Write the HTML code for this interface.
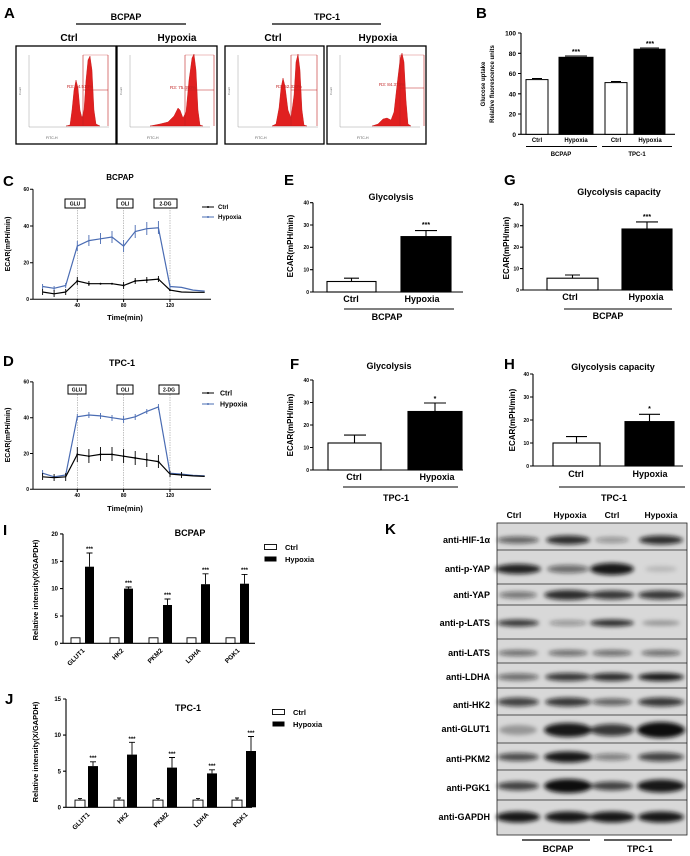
<!DOCTYPE html>
<html><head><meta charset="utf-8"><style>
html,body{margin:0;padding:0;background:#fff;}
svg{display:block;font-family:"Liberation Sans",Arial,sans-serif;font-weight:bold;}
</style></head><body>
<svg width="690" height="856" viewBox="0 0 690 856" xmlns="http://www.w3.org/2000/svg">
<defs>
<filter id="bl" x="-30%" y="-80%" width="160%" height="260%"><feGaussianBlur stdDeviation="2"/></filter>
</defs>
<rect width="690" height="856" fill="#fff"/>

<!-- ===== A ===== -->
<text x="4" y="18" font-size="15">A</text>
<text x="126" y="20" font-size="9" text-anchor="middle">BCPAP</text>
<line x1="76" y1="24" x2="186" y2="24" stroke="#000" stroke-width="1.2"/>
<text x="327" y="20" font-size="9" text-anchor="middle">TPC-1</text>
<line x1="272" y1="24" x2="381" y2="24" stroke="#000" stroke-width="1.2"/>
<g font-size="10" text-anchor="middle">
<text x="69" y="41">Ctrl</text><text x="177" y="41">Hypoxia</text>
<text x="273" y="41">Ctrl</text><text x="378" y="41">Hypoxia</text>
</g>
<g fill="none" stroke="#000" stroke-width="1.3">
<rect x="16" y="46" width="100" height="98"/><rect x="117" y="46" width="100" height="98"/>
<rect x="225" y="46" width="99" height="98"/><rect x="327" y="46" width="99" height="98"/>
</g>
<g font-size="3.5" font-weight="normal" fill="#555">
<text x="46" y="139">FITC-H</text><text x="147" y="139">FITC-H</text><text x="255" y="139">FITC-H</text><text x="357" y="139">FITC-H</text>
</g>
<g stroke="#888" stroke-width="0.4">
<line x1="29" y1="55" x2="29" y2="127"/><line x1="29" y1="127" x2="109" y2="127"/>
<line x1="130" y1="55" x2="130" y2="127"/><line x1="130" y1="127" x2="210" y2="127"/>
<line x1="238" y1="55" x2="238" y2="127"/><line x1="238" y1="127" x2="318" y2="127"/>
<line x1="340" y1="55" x2="340" y2="127"/><line x1="340" y1="127" x2="420" y2="127"/>
</g>
<g fill="#e02020" stroke="#c01010" stroke-width="0.4">
<path d="M66,126 L70,125 72,110 74,90 76,80 78,88 80,110 82,118 84,110 86,80 88,60 90,56 92,70 94,110 96,124 100,126 Z"/>
<path d="M150,126 L160,124 168,122 174,116 178,108 180,110 183,118 186,112 189,80 192,58 194,54 196,70 198,110 200,125 203,126 Z"/>
<path d="M272,126 L276,124 279,108 281,88 283,78 285,86 288,110 291,118 294,95 296,62 298,54 300,70 302,110 304,125 307,126 Z"/>
<path d="M372,126 L378,124 383,119 387,118 391,120 394,112 397,85 400,60 402,53 404,62 406,100 408,124 411,126 Z"/>
</g>
<g stroke="#c02020" stroke-width="0.6" fill="none">
<path d="M83,55 V126 M108,55 V126 M83,90 H108"/>
<path d="M185,55 V126 M214,55 V126 M185,90 H214"/>
<path d="M291,55 V126 M317,55 V126 M291,90 H317"/>
<path d="M400,55 V126 M424,55 V126 M400,88 H424"/>
<path d="M83,55 H108 M185,55 H214 M291,55 H317 M400,55 H424" stroke-width="0.3"/>
</g>
<g font-size="4.5" fill="#c02020" font-weight="normal">
<text x="67" y="88">R3: 54.510%</text><text x="170" y="89">R3: 75.400%</text>
<text x="276" y="88">R3: 52.330%</text><text x="379" y="86">R3: 84.370%</text>
</g>
<g font-size="3" font-weight="normal" fill="#666">
<text x="21" y="95" transform="rotate(-90 21 95)">Count</text><text x="122" y="95" transform="rotate(-90 122 95)">Count</text>
<text x="230" y="95" transform="rotate(-90 230 95)">Count</text><text x="332" y="95" transform="rotate(-90 332 95)">Count</text>
</g>

<!-- ===== B ===== -->
<text x="476" y="18" font-size="15">B</text>
<g stroke="#000" stroke-width="1.1">
<line x1="521" y1="33" x2="521" y2="134.3"/><line x1="521" y1="134.3" x2="675" y2="134.3"/>
<path d="M518,33H521M518,53.3H521M518,73.5H521M518,93.8H521M518,114H521M518,134.3H521"/>
</g>
<g font-size="6.5" text-anchor="end">
<text x="516" y="35.5">100</text><text x="516" y="55.8">80</text><text x="516" y="76">60</text><text x="516" y="96.3">40</text><text x="516" y="116.5">20</text><text x="516" y="136.8">0</text>
</g>
<g stroke="#000" stroke-width="1">
<rect x="526" y="79.6" width="22" height="54.7" fill="#fff"/>
<rect x="559" y="57.3" width="34" height="77" fill="#000"/>
<rect x="605" y="82.6" width="22" height="51.7" fill="#fff"/>
<rect x="634" y="49.2" width="31" height="85.1" fill="#000"/>
<path d="M532,78.5H542M565,56H587M611,81.5H621M640,48H659"/>
</g>
<g font-size="7" text-anchor="middle"><text x="576" y="54">***</text><text x="650" y="46">***</text></g>
<g font-size="6" text-anchor="middle">
<text x="537" y="142">Ctrl</text><text x="576" y="142">Hypoxia</text><text x="616" y="142">Ctrl</text><text x="650" y="142">Hypoxia</text>
<text x="561" y="156">BCPAP</text><text x="637" y="156">TPC-1</text>
</g>
<path d="M526,146.5H597M602,146.5H672" stroke="#000" stroke-width="1"/>
<g font-size="6" text-anchor="middle">
<text transform="translate(485,84) rotate(-90)">Glucose uptake</text>
<text transform="translate(494,84) rotate(-90)">Relative fluorescence units</text>
</g>

<!-- ===== C ===== -->
<text x="3" y="186" font-size="15">C</text>
<text x="120" y="180" font-size="8" text-anchor="middle">BCPAP</text>
<g stroke="#000" stroke-width="1">
<line x1="33" y1="189.3" x2="33" y2="299.3"/><line x1="33" y1="299.3" x2="211" y2="299.3"/>
<path d="M30,189.3H33M30,226H33M30,262.7H33M30,299.3H33M77.3,299.3V302M123.6,299.3V302M170,299.3V302"/>
</g>
<g font-size="5" text-anchor="end"><text x="29" y="191">60</text><text x="29" y="228">40</text><text x="29" y="264.5">20</text><text x="29" y="301">0</text></g>
<g font-size="5" text-anchor="middle"><text x="77.3" y="307">40</text><text x="123.6" y="307">80</text><text x="170" y="307">120</text></g>
<text x="125" y="320" font-size="7.5" text-anchor="middle">Time(min)</text>
<text transform="translate(10,244) rotate(-90)" font-size="7" text-anchor="middle">ECAR(mPH/min)</text>
<g stroke="#999" stroke-width="0.6" stroke-dasharray="1.5,1"><path d="M77.3,200V299M123.6,200V299M170,200V299"/></g>
<g fill="#fff" stroke="#000" stroke-width="1"><rect x="65" y="199" width="20" height="9"/><rect x="117" y="199" width="16" height="9"/><rect x="154" y="199" width="23" height="9"/></g>
<g font-size="5" text-anchor="middle"><text x="75" y="205.5">GLU</text><text x="125" y="205.5">OLI</text><text x="165.5" y="205.5">2-DG</text></g>
<path d="M202,207H214" stroke="#000" stroke-width="1"/><circle cx="208" cy="207" r="1" fill="#000"/>
<path d="M202,217H214" stroke="#4a6cb3" stroke-width="1"/><circle cx="208" cy="217" r="1" fill="#4a6cb3"/>
<text x="218" y="209" font-size="6">Ctrl</text><text x="218" y="219" font-size="6">Hypoxia</text>
<polyline fill="none" stroke="#4a6cb3" stroke-width="1.2" points="42.6,286.5 54.1,288.3 65.7,285.5 77.3,246.1 88.9,240.6 100.5,238.8 112,237 123.6,246.1 135.2,231.5 146.8,228.7 158.4,227.8 170,286.5 181.5,287.4 193.1,290.1 204.7,291.1"/>
<g stroke="#4a6cb3" stroke-width="0.9"><path d="M42.6,284V289M54.1,286V291M65.7,283V288M77.3,241V251M88.9,235V246M100.5,233V244M112,231V243M123.6,240V252M135.2,225V238M146.8,222V235M158.4,221V234M170,284V289"/></g>
<polyline fill="none" stroke="#000" stroke-width="1.2" points="42.6,292 54.1,293.8 65.7,292 77.3,281 88.9,283.7 100.5,283.7 112,283.7 123.6,285.5 135.2,281 146.8,280.1 158.4,279.1 170,290.1 181.5,292 193.1,292.3 204.7,292.3"/>
<g stroke="#000" stroke-width="0.9"><path d="M42.6,289V295M54.1,290V297M65.7,289V295M77.3,277V285M88.9,281V286M123.6,282V289M135.2,278V284M146.8,277V283M158.4,276V282"/></g>
<g fill="#000"><circle cx="77.3" cy="281" r="1"/><circle cx="88.9" cy="283.7" r="1"/><circle cx="100.5" cy="283.7" r="1"/><circle cx="112" cy="283.7" r="1"/><circle cx="123.6" cy="285.5" r="1"/><circle cx="135.2" cy="281" r="1"/><circle cx="146.8" cy="280.1" r="1"/><circle cx="158.4" cy="279.1" r="1"/><circle cx="170" cy="290.1" r="1"/></g>

<!-- ===== D ===== -->
<text x="3" y="366" font-size="15">D</text>
<text x="122" y="366" font-size="9" text-anchor="middle">TPC-1</text>
<g stroke="#000" stroke-width="1">
<line x1="33" y1="381.9" x2="33" y2="489.3"/><line x1="33" y1="489.3" x2="211" y2="489.3"/>
<path d="M30,381.9H33M30,417.7H33M30,453.5H33M30,489.3H33M77.3,489.3V492M123.6,489.3V492M170,489.3V492"/>
</g>
<g font-size="5" text-anchor="end"><text x="29" y="383.7">60</text><text x="29" y="419.5">40</text><text x="29" y="455.3">20</text><text x="29" y="491">0</text></g>
<g font-size="5" text-anchor="middle"><text x="77.3" y="497">40</text><text x="123.6" y="497">80</text><text x="170" y="497">120</text></g>
<text x="125" y="511" font-size="7.5" text-anchor="middle">Time(min)</text>
<text transform="translate(10,435) rotate(-90)" font-size="7" text-anchor="middle">ECAR(mPH/min)</text>
<g stroke="#999" stroke-width="0.6" stroke-dasharray="1.5,1"><path d="M77.3,392V489M123.6,392V489M170,392V489"/></g>
<g fill="#fff" stroke="#000" stroke-width="1"><rect x="68" y="385" width="18" height="9"/><rect x="117" y="385" width="16" height="9"/><rect x="159" y="385" width="20" height="9"/></g>
<g font-size="5" text-anchor="middle"><text x="77" y="391.5">GLU</text><text x="125" y="391.5">OLI</text><text x="169" y="391.5">2-DG</text></g>
<path d="M202,393H214" stroke="#000" stroke-width="1"/><circle cx="208" cy="393" r="1" fill="#000"/>
<path d="M202,404H214" stroke="#4a6cb3" stroke-width="1"/><circle cx="208" cy="404" r="1" fill="#4a6cb3"/>
<text x="220" y="395.5" font-size="7">Ctrl</text><text x="220" y="406.5" font-size="7">Hypoxia</text>
<polyline fill="none" stroke="#4a6cb3" stroke-width="1.2" points="42.6,473.2 54.1,476.8 65.7,475 77.3,416.8 88.9,415 100.5,415.9 112,417.7 123.6,419.5 135.2,416.8 146.8,411.4 158.4,407 170,473.2 181.5,474.1 193.1,475.3 204.7,475.9"/>
<g stroke="#4a6cb3" stroke-width="0.9"><path d="M42.6,470V476M77.3,414V420M88.9,412V418M100.5,413V419M112,415V421M123.6,416V423M135.2,414V420M146.8,409V414M158.4,404V410"/></g>
<polyline fill="none" stroke="#000" stroke-width="1.2" points="42.6,476.8 54.1,477.7 65.7,476.8 77.3,454.4 88.9,456.2 100.5,454.4 112,454.4 123.6,456.2 135.2,458 146.8,459.8 158.4,461.6 170,474.1 181.5,475 193.1,475.9 204.7,476.4"/>
<g stroke="#000" stroke-width="0.9"><path d="M42.6,473V480M54.1,474V481M65.7,473V481M77.3,447V462M88.9,449V463M100.5,447V461M112,447V461M123.6,449V463M135.2,451V465M146.8,453V467M158.4,455V468M170,471V477M181.5,472V478"/></g>
<g fill="#000"><circle cx="77.3" cy="454.4" r="1"/><circle cx="88.9" cy="456.2" r="1"/><circle cx="100.5" cy="454.4" r="1"/><circle cx="112" cy="454.4" r="1"/><circle cx="123.6" cy="456.2" r="1"/><circle cx="135.2" cy="458" r="1"/><circle cx="146.8" cy="459.8" r="1"/><circle cx="158.4" cy="461.6" r="1"/></g>

<!-- ===== E ===== -->
<text x="284" y="185" font-size="15">E</text>
<text x="391" y="200" font-size="9" text-anchor="middle">Glycolysis</text>
<g stroke="#000" stroke-width="1.1">
<line x1="313" y1="202.7" x2="313" y2="292"/><line x1="313" y1="292" x2="463" y2="292"/>
<path d="M310,202.7H313M310,225H313M310,247.3H313M310,269.7H313M310,292H313"/>
<rect x="327" y="281.5" width="49" height="10.5" fill="#fff"/><rect x="401" y="236.6" width="50" height="55.4" fill="#000"/>
<path d="M351.5,281.5V278.2M344,278.2H359M426,236.6V230.6M415,230.6H437"/>
</g>
<g font-size="5" text-anchor="end"><text x="309" y="204.5">40</text><text x="309" y="226.8">30</text><text x="309" y="249">20</text><text x="309" y="271.5">10</text><text x="309" y="293.8">0</text></g>
<text x="426" y="227" font-size="7" text-anchor="middle">***</text>
<g font-size="9" text-anchor="middle"><text x="351" y="302">Ctrl</text><text x="422" y="302">Hypoxia</text><text x="387" y="320">BCPAP</text></g>
<path d="M344,309H454" stroke="#000" stroke-width="1"/>
<text transform="translate(293,246) rotate(-90)" font-size="8" text-anchor="middle">ECAR(mPH/min)</text>

<!-- ===== G ===== -->
<text x="504" y="185" font-size="15">G</text>
<text x="619" y="195" font-size="9" text-anchor="middle">Glycolysis capacity</text>
<g stroke="#000" stroke-width="1.1">
<line x1="523" y1="204.3" x2="523" y2="290"/><line x1="523" y1="290" x2="673" y2="290"/>
<path d="M520,204.3H523M520,225.7H523M520,247.2H523M520,268.6H523M520,290H523"/>
<rect x="547" y="278.2" width="51" height="11.8" fill="#fff"/><rect x="622" y="229" width="50" height="61" fill="#000"/>
<path d="M572.5,278.2V275M565,275H580M647,229V221.9M636,221.9H658"/>
</g>
<g font-size="5" text-anchor="end"><text x="519" y="206">40</text><text x="519" y="227.5">30</text><text x="519" y="249">20</text><text x="519" y="270.4">10</text><text x="519" y="291.8">0</text></g>
<text x="647" y="219" font-size="7" text-anchor="middle">***</text>
<g font-size="9" text-anchor="middle"><text x="570" y="300">Ctrl</text><text x="646" y="300">Hypoxia</text><text x="608" y="319">BCPAP</text></g>
<path d="M564,309H672" stroke="#000" stroke-width="1"/>
<text transform="translate(509,248) rotate(-90)" font-size="8" text-anchor="middle">ECAR(mPH/min)</text>

<!-- ===== F ===== -->
<text x="290" y="369" font-size="15">F</text>
<text x="389" y="369" font-size="9" text-anchor="middle">Glycolysis</text>
<g stroke="#000" stroke-width="1.1">
<line x1="313" y1="380" x2="313" y2="470"/><line x1="313" y1="470" x2="463" y2="470"/>
<path d="M310,380H313M310,402.5H313M310,425H313M310,447.5H313M310,470H313"/>
<rect x="328" y="443" width="53" height="27" fill="#fff"/><rect x="408" y="411.5" width="54" height="58.5" fill="#000"/>
<path d="M354.5,443V435.1M344,435.1H366M435,411.5V403M424,403H446"/>
</g>
<g font-size="5" text-anchor="end"><text x="309" y="381.8">40</text><text x="309" y="404.3">30</text><text x="309" y="426.8">20</text><text x="309" y="449.3">10</text><text x="309" y="471.8">0</text></g>
<text x="435" y="401" font-size="7" text-anchor="middle">*</text>
<g font-size="9" text-anchor="middle"><text x="354" y="480">Ctrl</text><text x="437" y="480">Hypoxia</text><text x="396" y="501">TPC-1</text></g>
<path d="M343,487H458" stroke="#000" stroke-width="1"/>
<text transform="translate(293,425) rotate(-90)" font-size="8" text-anchor="middle">ECAR(mPH/min)</text>

<!-- ===== H ===== -->
<text x="504" y="369" font-size="15">H</text>
<text x="613" y="370" font-size="9" text-anchor="middle">Glycolysis capacity</text>
<g stroke="#000" stroke-width="1.1">
<line x1="533" y1="374" x2="533" y2="466"/><line x1="533" y1="466" x2="683" y2="466"/>
<path d="M530,374H533M530,397H533M530,420H533M530,443H533M530,466H533"/>
<rect x="553" y="443" width="47" height="23" fill="#fff"/><rect x="625" y="421.6" width="49" height="44.4" fill="#000"/>
<path d="M576.5,443V436.6M566,436.6H587M649.5,421.6V414.3M639,414.3H660"/>
</g>
<g font-size="5" text-anchor="end"><text x="529" y="375.8">40</text><text x="529" y="398.8">30</text><text x="529" y="421.8">20</text><text x="529" y="444.8">10</text><text x="529" y="467.8">0</text></g>
<text x="649.5" y="411" font-size="7" text-anchor="middle">*</text>
<g font-size="9" text-anchor="middle"><text x="576" y="477">Ctrl</text><text x="650" y="477">Hypoxia</text><text x="614" y="501">TPC-1</text></g>
<path d="M559,487H685" stroke="#000" stroke-width="1"/>
<text transform="translate(515,420) rotate(-90)" font-size="8" text-anchor="middle">ECAR(mPH/min)</text>

<!-- ===== I ===== -->
<text x="3" y="535" font-size="15">I</text>
<text x="190" y="536" font-size="9" text-anchor="middle">BCPAP</text>
<g stroke="#000" stroke-width="1.1">
<line x1="63" y1="533.9" x2="63" y2="643.3"/><line x1="63" y1="643.3" x2="255" y2="643.3"/>
<path d="M60,533.9H63M60,561.3H63M60,588.6H63M60,616H63M60,643.3H63"/>
</g>
<g font-size="6" text-anchor="end"><text x="58" y="536">20</text><text x="58" y="563.4">15</text><text x="58" y="590.7">10</text><text x="58" y="618">5</text><text x="58" y="645.4">0</text></g>
<g stroke="#000" stroke-width="0.9" fill="#fff">
<rect x="71" y="637.8" width="9" height="5.5"/><rect x="110" y="637.8" width="9" height="5.5"/><rect x="149" y="637.8" width="9" height="5.5"/><rect x="187" y="637.8" width="9" height="5.5"/><rect x="226" y="637.8" width="9" height="5.5"/>
</g>
<g fill="#000"><rect x="85" y="566.7" width="9" height="76.6"/><rect x="124" y="588.6" width="9" height="54.7"/><rect x="163" y="605" width="9" height="38.3"/><rect x="201" y="584.2" width="9" height="59.1"/><rect x="240" y="583.7" width="9" height="59.6"/></g>
<g stroke="#000" stroke-width="0.9"><path d="M89.5,566.7V553M86.5,553H92.5M128.5,588.6V587M125.5,587H131.5M167.5,605V599M164.5,599H170.5M205.5,584.2V573.8M202.5,573.8H208.5M244.5,583.7V574.4M241.5,574.4H247.5"/></g>
<g font-size="6" text-anchor="middle"><text x="89.5" y="551">***</text><text x="128.5" y="585">***</text><text x="167.5" y="597">***</text><text x="205.5" y="572">***</text><text x="244.5" y="572">***</text></g>
<g font-size="6.5" text-anchor="end">
<text transform="translate(85,651) rotate(-45)">GLUT1</text><text transform="translate(124,651) rotate(-45)">HK2</text><text transform="translate(163,651) rotate(-45)">PKM2</text><text transform="translate(201,651) rotate(-45)">LDHA</text><text transform="translate(240,651) rotate(-45)">PGK1</text>
</g>
<text transform="translate(38,590) rotate(-90)" font-size="7.5" text-anchor="middle">Relative intensity(X/GAPDH)</text>
<rect x="264.5" y="544.5" width="12" height="5" fill="#fff" stroke="#000" stroke-width="0.9"/><rect x="264.5" y="556.5" width="12" height="5" fill="#000"/>
<text x="285" y="550" font-size="7.5">Ctrl</text><text x="285" y="562" font-size="7.5">Hypoxia</text>

<!-- ===== J ===== -->
<text x="5" y="704" font-size="15">J</text>
<text x="188" y="711" font-size="9" text-anchor="middle">TPC-1</text>
<g stroke="#000" stroke-width="1.1">
<line x1="66" y1="699" x2="66" y2="807.3"/><line x1="66" y1="807.3" x2="252" y2="807.3"/>
<path d="M63,699H66M63,735.1H66M63,771.2H66M63,807.3H66"/>
</g>
<g font-size="6" text-anchor="end"><text x="61" y="701">15</text><text x="61" y="737.2">10</text><text x="61" y="773.3">5</text><text x="61" y="809.4">0</text></g>
<g stroke="#000" stroke-width="0.9" fill="#fff">
<rect x="75" y="800.1" width="10" height="7.2"/><rect x="114" y="800.1" width="10" height="7.2"/><rect x="153" y="800.1" width="10" height="7.2"/><rect x="193" y="800.1" width="10" height="7.2"/><rect x="232" y="800.1" width="10" height="7.2"/>
</g>
<g fill="#000"><rect x="88" y="766.1" width="10" height="41.2"/><rect x="127" y="754.6" width="10" height="52.7"/><rect x="167" y="767.6" width="10" height="39.7"/><rect x="207" y="773.4" width="10" height="33.9"/><rect x="246" y="751" width="10" height="56.3"/></g>
<g stroke="#000" stroke-width="0.9"><path d="M93,766.1V761.8M90,761.8H96M132,754.6V742.3M129,742.3H135M172,767.6V757.5M169,757.5H175M212,773.4V769.8M209,769.8H215M251,751V736.5M248,736.5H254M80,800V798.6M78,798.6H82M119,800V798M117,798H121M158,800V798.6M156,798.6H160M198,800V798.6M196,798.6H200M237,800V798M235,798H239"/></g>
<g font-size="6" text-anchor="middle"><text x="93" y="760">***</text><text x="132" y="741">***</text><text x="172" y="756">***</text><text x="212" y="768">***</text><text x="251" y="735">***</text></g>
<g font-size="6.5" text-anchor="end">
<text transform="translate(90,815) rotate(-45)">GLUT1</text><text transform="translate(129,815) rotate(-45)">HK2</text><text transform="translate(169,815) rotate(-45)">PKM2</text><text transform="translate(209,815) rotate(-45)">LDHA</text><text transform="translate(248,815) rotate(-45)">PGK1</text>
</g>
<text transform="translate(38,752) rotate(-90)" font-size="7.5" text-anchor="middle">Relative intensity(X/GAPDH)</text>
<rect x="272.5" y="709.5" width="12" height="5" fill="#fff" stroke="#000" stroke-width="0.9"/><rect x="272.5" y="721.5" width="12" height="5" fill="#000"/>
<text x="293" y="715" font-size="7.5">Ctrl</text><text x="293" y="727" font-size="7.5">Hypoxia</text>

<!-- ===== K ===== -->
<text x="385" y="534" font-size="15">K</text>
<g font-size="8.5" text-anchor="middle"><text x="514" y="518">Ctrl</text><text x="570" y="518">Hypoxia</text><text x="612" y="518">Ctrl</text><text x="661" y="518">Hypoxia</text></g>
<rect x="497" y="523" width="190" height="312" fill="#d8d8d8"/>
<g filter="url(#bl)" fill="#111">
<!-- HIF -->
<ellipse cx="518" cy="540" rx="21" ry="3.5" opacity="0.6"/><ellipse cx="568" cy="540" rx="22" ry="4.5" opacity="0.85"/><ellipse cx="612" cy="540" rx="17" ry="3" opacity="0.35"/><ellipse cx="661" cy="540" rx="22" ry="4.5" opacity="0.85"/>
<!-- p-YAP -->
<ellipse cx="518" cy="569" rx="23" ry="5" opacity="0.9"/><ellipse cx="568" cy="569" rx="21" ry="4" opacity="0.55"/><ellipse cx="612" cy="569" rx="22" ry="6" opacity="0.95"/><ellipse cx="661" cy="569" rx="16" ry="3" opacity="0.15"/>
<!-- YAP -->
<ellipse cx="518" cy="595" rx="19" ry="3.5" opacity="0.5"/><ellipse cx="568" cy="595" rx="24" ry="5" opacity="0.85"/><ellipse cx="612" cy="595" rx="22" ry="4.5" opacity="0.8"/><ellipse cx="661" cy="595" rx="23" ry="4.5" opacity="0.8"/>
<!-- p-LATS -->
<ellipse cx="518" cy="623" rx="21" ry="3.5" opacity="0.8"/><ellipse cx="568" cy="623" rx="19" ry="2.8" opacity="0.35"/><ellipse cx="612" cy="623" rx="22" ry="3.5" opacity="0.85"/><ellipse cx="661" cy="623" rx="19" ry="2.8" opacity="0.3"/>
<!-- LATS -->
<ellipse cx="518" cy="653" rx="20" ry="3" opacity="0.55"/><ellipse cx="568" cy="653" rx="20" ry="3" opacity="0.55"/><ellipse cx="612" cy="653" rx="20" ry="3" opacity="0.55"/><ellipse cx="661" cy="653" rx="20" ry="3" opacity="0.55"/>
<!-- LDHA -->
<ellipse cx="518" cy="677" rx="21" ry="3.5" opacity="0.55"/><ellipse cx="568" cy="677" rx="23" ry="4" opacity="0.8"/><ellipse cx="612" cy="677" rx="21" ry="4" opacity="0.85"/><ellipse cx="661" cy="677" rx="23" ry="4" opacity="0.95"/>
<!-- HK2 -->
<ellipse cx="518" cy="702" rx="21" ry="4.5" opacity="0.75"/><ellipse cx="568" cy="702" rx="23" ry="4.5" opacity="0.8"/><ellipse cx="612" cy="702" rx="20" ry="3.5" opacity="0.6"/><ellipse cx="661" cy="702" rx="23" ry="4.5" opacity="0.8"/>
<!-- GLUT1 -->
<ellipse cx="518" cy="730" rx="19" ry="5" opacity="0.3"/><ellipse cx="568" cy="730" rx="24" ry="7" opacity="0.95"/><ellipse cx="612" cy="730" rx="22" ry="6" opacity="0.8"/><ellipse cx="661" cy="730" rx="24" ry="8" opacity="1"/>
<!-- PKM2 -->
<ellipse cx="518" cy="757" rx="21" ry="4" opacity="0.7"/><ellipse cx="568" cy="757" rx="24" ry="5.5" opacity="0.95"/><ellipse cx="612" cy="757" rx="19" ry="3.5" opacity="0.45"/><ellipse cx="661" cy="757" rx="23" ry="4.5" opacity="0.75"/>
<!-- PGK1 -->
<ellipse cx="518" cy="786" rx="21" ry="4.5" opacity="0.75"/><ellipse cx="568" cy="786" rx="24" ry="7" opacity="1"/><ellipse cx="612" cy="786" rx="21" ry="4.5" opacity="0.75"/><ellipse cx="661" cy="786" rx="24" ry="6.5" opacity="0.95"/>
<!-- GAPDH -->
<ellipse cx="518" cy="817" rx="22" ry="5.5" opacity="0.95"/><ellipse cx="568" cy="817" rx="23" ry="5.5" opacity="0.95"/><ellipse cx="612" cy="817" rx="23" ry="5.5" opacity="0.95"/><ellipse cx="661" cy="817" rx="23" ry="5.5" opacity="0.95"/>
</g>
<g fill="none" stroke="#222" stroke-width="0.8">
<rect x="497" y="523" width="190" height="312"/>
<path d="M497,550H687M497,584H687M497,605H687M497,639H687M497,663H687M497,688H687M497,715H687M497,743H687M497,770H687M497,800H687"/>
</g>
<g font-size="9" text-anchor="end">
<text x="490" y="543">anti-HIF-1α</text><text x="490" y="572">anti-p-YAP</text><text x="490" y="598">anti-YAP</text><text x="490" y="626">anti-p-LATS</text><text x="490" y="656">anti-LATS</text><text x="490" y="680">anti-LDHA</text><text x="490" y="708">anti-HK2</text><text x="490" y="732">anti-GLUT1</text><text x="490" y="762">anti-PKM2</text><text x="490" y="791">anti-PGK1</text><text x="490" y="820">anti-GAPDH</text>
</g>
<path d="M522,840H590M604,840H672" stroke="#000" stroke-width="1.2"/>
<g font-size="9" text-anchor="middle"><text x="558" y="852">BCPAP</text><text x="640" y="852">TPC-1</text></g>
</svg>
</body></html>
